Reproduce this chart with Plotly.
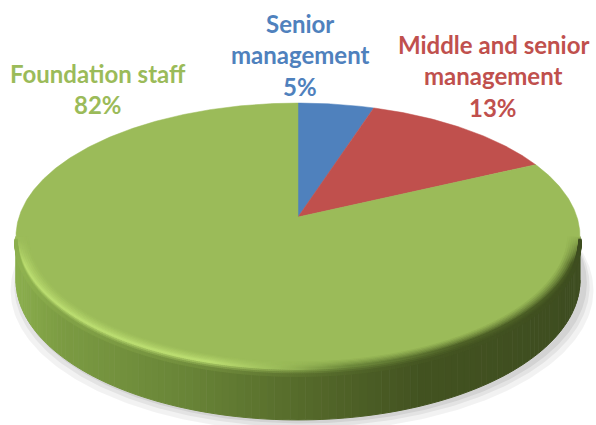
import numpy as np
import plotly.graph_objects as go

# Workforce composition (percent of staff)
labels = ["Senior management", "Middle and senior management", "Foundation staff"]
label_lines = [["Senior", "management"], ["Middle and senior", "management"], ["Foundation staff"]]
shares = [5, 13, 82]
colors = ["#4F81BD", "#C0504D", "#9BBB59"]

# Perspective disc geometry (screen pixels)
CX, CY = 298.0, 217.0      # projected centre of the pie
A, B = 279.0, 130.6        # horizontal / depth scale of the top face
K = 0.146                  # perspective strength (back is smaller)
T = 42.7                   # thickness of the disc

# Label anchor (centre x, first-line y) and line step
label_pos = [(300, 23), (493, 44), (98, 73)]
line_step = 31.5

TOP = np.array([155, 187, 89])


def project(theta_deg, drop=0.0, r=1.0):
    th = np.radians(theta_deg)
    X, Z = r * np.sin(th), r * np.cos(th)
    d = 1 + K * Z
    return CX + A * X / d, CY - B * Z / d + drop / d


def interp_rgb(x, xs, cols):
    cols = np.array(cols, dtype=float)
    return np.stack([np.interp(x, xs, cols[:, i]) for i in range(3)], axis=-1)


def side_rgb(x):
    return interp_rgb(x, [15, 60, 180, 300, 420, 585],
                      [(140, 176, 78), (124, 156, 67), (106, 134, 56),
                       (86, 107, 43), (67, 83, 33), (62, 77, 32)])


def rim_rgb(x):
    # light bevel on the left-front, shaded bevel on the right-front
    return interp_rgb(x, [15, 210, 290, 350, 460, 585],
                      [(186, 220, 112), (186, 220, 112), (150, 182, 86),
                       (110, 138, 60), (78, 97, 39), (72, 90, 36)])


def css(c):
    return "rgb(%d,%d,%d)" % tuple(np.clip(c, 0, 255))


fig = go.Figure()

# Soft drop shadow under the disc
th_all = np.linspace(0, 360, 361)
for grow, op in [(10, 0.05), (6, 0.06), (3, 0.07)]:
    sx, sy = project(th_all, T + grow)
    sx = CX + (sx - CX) * (1 + grow / 300.0) + 4
    fig.add_trace(go.Scatter(x=sx, y=sy, mode="lines", fill="toself",
                             fillcolor="rgba(0,0,0,%.2f)" % op, line=dict(width=0),
                             hoverinfo="skip", showlegend=False))

# Visible side wall: front half between the two horizontal extremes
th_r = np.degrees(np.arccos(-K))
th_l = 360 - th_r
edges = np.linspace(th_r, th_l, 121)
for a0, a1 in zip(edges[:-1], edges[1:]):
    seg = np.linspace(a0, a1, 3)
    tx, ty = project(seg)
    bx, by = project(seg[::-1], T)
    col = css(side_rgb(tx.mean()))
    fig.add_trace(go.Scatter(x=np.concatenate([tx, bx]), y=np.concatenate([ty, by]),
                             mode="lines", fill="toself", fillcolor=col,
                             line=dict(width=1, color=col), hoverinfo="skip", showlegend=False))

# Top face slices, clockwise from 12 o'clock
start = 0.0
total = float(sum(shares))
for name, v, c in zip(labels, shares, colors):
    end = start + 360.0 * v / total
    arc = np.linspace(start, end, max(int(end - start) * 2, 4))
    ax_, ay_ = project(arc)
    fig.add_trace(go.Scatter(x=np.concatenate([[CX], ax_, [CX]]),
                             y=np.concatenate([[CY], ay_, [CY]]),
                             mode="lines", fill="toself", fillcolor=c,
                             line=dict(width=0.5, color=c), name=name,
                             hoverinfo="name", showlegend=False))
    start = end

# Rounded bevel where the top face meets the side wall
bevel_th = np.linspace(th_r + 1, th_l - 1, 420)
bx0, _ = project(bevel_th)
# fade the bevel out towards the two horizontal extremes
taper = np.clip(np.minimum(bevel_th - th_r, th_l - bevel_th) / 12.0, 0, 1)[:, None]
rim_c = rim_rgb(bx0)
side_c = side_rgb(bx0)
rows = [("r", 0.962, 0.10), ("r", 0.969, 0.25), ("r", 0.976, 0.42), ("r", 0.983, 0.6),
        ("r", 0.990, 0.8), ("r", 0.996, 1.0), ("d", 1.5, 0.35), ("d", 3.0, 0.65), ("d", 4.5, 0.88)]
for kind, val, w in rows:
    if kind == "r":
        px, py = project(bevel_th, 0.0, val)
        wt = w * taper
        cols = TOP * (1 - wt) + rim_c * wt
    else:
        px, py = project(bevel_th, val)
        wt = 1 - (1 - w) * taper
        cols = rim_c * (1 - wt) + side_c * wt
    fig.add_trace(go.Scatter(x=px, y=py, mode="markers",
                             marker=dict(symbol="square", size=3.4, line=dict(width=0),
                                         color=[css(c) for c in cols]),
                             hoverinfo="skip", showlegend=False))

# Category labels with percentages
for lines, v, c, (lx, ly) in zip(label_lines, shares, colors, label_pos):
    for j, txt in enumerate(lines + ["%d%%" % v]):
        fig.add_annotation(x=lx, y=ly + j * line_step, text="<b>%s</b>" % txt, showarrow=False,
                           xref="x", yref="y", xanchor="center", yanchor="middle",
                           font=dict(family="Lato", size=24, color=c))

fig.update_xaxes(range=[0, 596], visible=False, fixedrange=True)
fig.update_yaxes(range=[425, 0], visible=False, fixedrange=True)
fig.update_layout(width=596, height=425, margin=dict(l=0, r=0, t=0, b=0),
                  plot_bgcolor="white", paper_bgcolor="white", showlegend=False)

fig.write_html("out.html")
